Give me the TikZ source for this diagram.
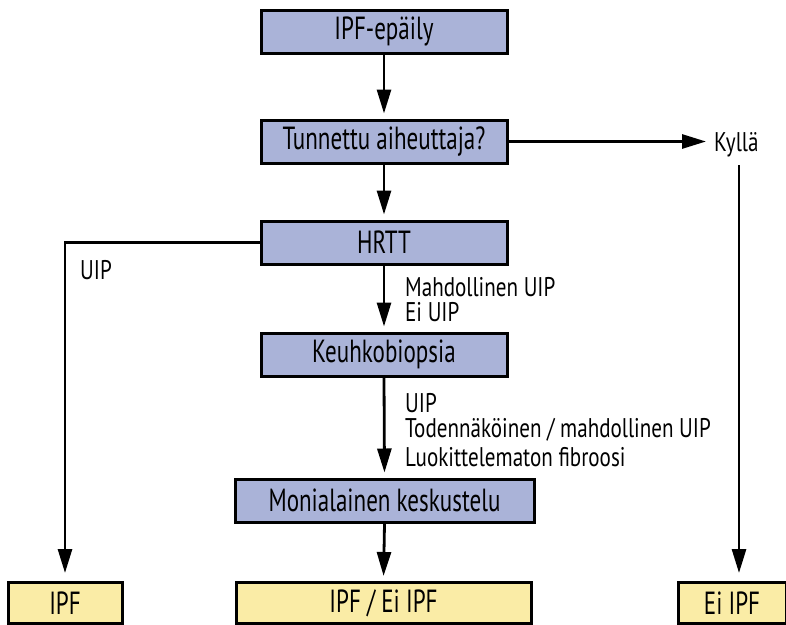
\documentclass[tikz,border=0pt]{standalone}
\usepackage{fontspec}
\setmainfont[FakeStretch=0.72]{PT Sans}
\newfontfamily\lblfont[FakeStretch=0.78]{PT Sans}
\usetikzlibrary{arrows.meta}
\definecolor{boxblue}{RGB}{170,179,216}
\definecolor{boxyellow}{RGB}{250,236,166}
\begin{document}
\begin{tikzpicture}[x=1pt,y=1pt,
  bluebox/.style={draw=black,line width=3pt,fill=boxblue,minimum height=43pt,inner sep=0pt,font=\fontsize{32}{34}\selectfont},
  yellowbox/.style={draw=black,line width=3pt,fill=boxyellow,minimum height=41pt,inner sep=0pt,font=\fontsize{32}{34}\selectfont},
  lbl/.style={anchor=west,inner sep=0pt,font=\lblfont\fontsize{27}{29}\selectfont},
  conn/.style={line width=2.8pt,-{Triangle[length=24pt,width=14pt]},shorten >=5pt}]
\useasboundingbox (0,0) rectangle (786,-624);
\node[bluebox,minimum width=246pt] (b1) at (384,-31.5) {IPF-epäily};
\node[bluebox,minimum width=246pt] (b2) at (384,-141.5) {Tunnettu aiheuttaja?};
\node[bluebox,minimum width=246pt] (b3) at (384,-242.5) {HRTT};
\node[bluebox,minimum width=246pt] (b4) at (384,-354.5) {Keuhkobiopsia};
\node[bluebox,minimum width=299pt] (b5) at (384.5,-500.5) {Monialainen keskustelu};
\node[yellowbox,minimum width=114pt] (c1) at (65,-603) {IPF};
\node[yellowbox,minimum width=295pt] (c2) at (383.5,-603) {IPF / Ei IPF};
\node[yellowbox,minimum width=108pt] (c3) at (732,-603) {Ei IPF};
\node[lbl] (kylla) at (714,-145) {Kyllä};
\node[lbl] (l1) at (80,-270) {UIP};
\node[lbl] (l2) at (405,-287) {Mahdollinen UIP};
\node[lbl] (l3) at (405,-312) {Ei UIP};
\node[lbl] (l4) at (405,-403) {UIP};
\node[lbl] (l5) at (405,-430) {Todennäköinen / mahdollinen UIP};
\node[lbl] (l6) at (405,-457) {Luokittelematon fibroosi};
\draw[conn] (b1.south) -- (b2.north);
\draw[conn] (b2.south) -- (b3.north);
\draw[conn] (b3.south) -- (b4.north);
\draw[conn] (b4.south) -- (b5.north);
\draw[conn] (b5.south) -- (c2.north);
\draw[conn,shorten >=8pt] (b2.east) -- (b2.east -| kylla.west);
\coordinate (kd) at (739,-165);
\draw[conn,shorten >=8pt] (kd) -- (kd |- c3.north);
\draw[conn,shorten >=8pt] (b3.west) -- (c1.north |- b3.west) -- (c1.north);
\end{tikzpicture}
\end{document}
